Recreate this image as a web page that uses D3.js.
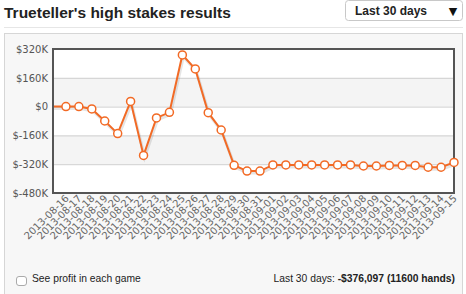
<!DOCTYPE html>
<html>
<head>
<meta charset="utf-8">
<script src="https://cdn.jsdelivr.net/npm/d3@7"></script>
<style>
  body { margin: 0; background: #fff; }
  svg { display: block; }
</style>
</head>
<body>
<div id="chart"></div>
<script>
document.addEventListener("DOMContentLoaded", function () {
  const width = 466;
  const height = 294;

  // data (thousands of dollars, cumulative)
  const dates = [
    "2013-08-16", "2013-08-17", "2013-08-18", "2013-08-19", "2013-08-20", "2013-08-21",
    "2013-08-22", "2013-08-23", "2013-08-24", "2013-08-25", "2013-08-26", "2013-08-27",
    "2013-08-28", "2013-08-29", "2013-08-30", "2013-08-31", "2013-09-01", "2013-09-02",
    "2013-09-03", "2013-09-04", "2013-09-05", "2013-09-06", "2013-09-07", "2013-09-08",
    "2013-09-09", "2013-09-10", "2013-09-11", "2013-09-12", "2013-09-13", "2013-09-14",
    "2013-09-15"
  ];
  const profit = [
    0, 0, -13, -80, -150, 29, -271, -63, -32, 287, 209, -34, -130, -326, -358, -358,
    -324, -324, -324, -324, -324, -324, -324, -330, -330, -327, -327, -327, -337, -337, -310
  ];
  const startValue = 0; // line starts at the left edge before the first day
  const yTicks = [320, 160, 0, -160, -320, -480];

  const plot = { left: 53, right: 454, top: 49, bottom: 193 };

  const svg = d3.select("#chart")
    .append("svg")
    .attr("width", width)
    .attr("height", height);

  // header
  svg.append("text")
    .attr("x", 4)
    .attr("y", 18)
    .attr("font-family", "Liberation Sans, Arial, sans-serif")
    .attr("font-weight", "bold")
    .attr("font-size", 15.5)
    .attr("fill", "#222")
    .text("Trueteller's high stakes results");

  svg.append("rect")
    .attr("x", 345.5).attr("y", 0.5)
    .attr("width", 117).attr("height", 20)
    .attr("rx", 3)
    .attr("fill", "#fff")
    .attr("stroke", "#c8c8c8");
  svg.append("text")
    .attr("x", 355).attr("y", 15)
    .attr("font-family", "Liberation Sans, Arial, sans-serif")
    .attr("font-weight", "bold")
    .attr("font-size", 12)
    .attr("fill", "#222")
    .text("Last 30 days");
  svg.append("text")
    .attr("x", 453).attr("y", 15)
    .attr("text-anchor", "middle")
    .attr("font-family", "DejaVu Sans, sans-serif")
    .attr("font-size", 11)
    .attr("fill", "#111")
    .text("▼");

  svg.append("line")
    .attr("x1", 4).attr("x2", 463)
    .attr("y1", 27.5).attr("y2", 27.5)
    .attr("stroke", "#e6e6e6");

  // panel
  svg.append("rect")
    .attr("x", 4.5).attr("y", 33.5)
    .attr("width", 458).attr("height", 266)
    .attr("fill", "#f7f7f7")
    .attr("stroke", "#d6d6d6");

  const x = d3.scaleLinear().domain([-1, dates.length - 1]).range([plot.left, plot.right]);
  const y = d3.scaleLinear().domain([-480, 320]).range([plot.bottom, plot.top]);

  // alternating bands
  const g = svg.append("g");
  g.append("rect")
    .attr("x", plot.left).attr("y", plot.top)
    .attr("width", plot.right - plot.left).attr("height", plot.bottom - plot.top)
    .attr("fill", "#fff");
  for (let i = 0; i < yTicks.length - 1; i++) {
    if (i % 2 === 1) {
      g.append("rect")
        .attr("x", plot.left).attr("y", y(yTicks[i]))
        .attr("width", plot.right - plot.left)
        .attr("height", y(yTicks[i + 1]) - y(yTicks[i]))
        .attr("fill", "#f4f4f4");
    }
  }

  // grid + y axis
  const yAxis = svg.append("g")
    .attr("transform", `translate(${plot.left},0)`)
    .call(d3.axisLeft(y).tickValues(yTicks).tickSize(-(plot.right - plot.left)).tickPadding(5)
      .tickFormat(d => d === 0 ? "$0" : "$" + d + "K"));
  yAxis.select(".domain").remove();
  yAxis.selectAll(".tick line").attr("stroke", "#cfcfcf");
  yAxis.selectAll(".tick text")
    .attr("font-family", "DejaVu Sans, Verdana, sans-serif")
    .attr("font-size", 10)
    .attr("fill", "#555");

  // line with shadow
  const pts = [{ i: -1, v: startValue }].concat(profit.map((v, i) => ({ i: i, v: v })));
  const line = d3.line().x(d => x(d.i)).y(d => y(d.v));
  svg.append("path")
    .datum(pts)
    .attr("transform", "translate(1,2)")
    .attr("fill", "none")
    .attr("stroke", "rgba(0,0,0,0.1)")
    .attr("stroke-width", 3)
    .attr("d", line);
  svg.append("path")
    .datum(pts)
    .attr("fill", "none")
    .attr("stroke", "#f26a25")
    .attr("stroke-width", 2)
    .attr("d", line);

  // frame
  svg.append("rect")
    .attr("x", plot.left).attr("y", plot.top)
    .attr("width", plot.right - plot.left).attr("height", plot.bottom - plot.top)
    .attr("fill", "none")
    .attr("stroke", "#555")
    .attr("stroke-width", 2);

  svg.selectAll("circle.pt")
    .data(profit)
    .enter().append("circle")
    .attr("class", "pt")
    .attr("cx", (d, i) => x(i))
    .attr("cy", d => y(d))
    .attr("r", 4)
    .attr("fill", "#fff")
    .attr("stroke", "#f26a25")
    .attr("stroke-width", 1.5);

  // x labels
  const xAxis = svg.append("g")
    .attr("transform", `translate(0,${plot.bottom})`)
    .call(d3.axisBottom(x).tickValues(d3.range(dates.length)).tickSize(0).tickPadding(0)
      .tickFormat(i => dates[i]));
  xAxis.select(".domain").remove();
  xAxis.selectAll(".tick text")
    .attr("font-family", "DejaVu Sans, Verdana, sans-serif")
    .attr("font-size", 10)
    .attr("fill", "#666")
    .attr("text-anchor", "end")
    .attr("dy", 0)
    .attr("transform", "translate(3,6) rotate(-45)");

  // footer
  svg.append("rect")
    .attr("x", 16.5).attr("y", 276.5)
    .attr("width", 10).attr("height", 9)
    .attr("rx", 2.5)
    .attr("fill", "#fff")
    .attr("stroke", "#aaa");
  svg.append("text")
    .attr("x", 32).attr("y", 282)
    .attr("font-family", "Liberation Sans, Arial, sans-serif")
    .attr("font-size", 10.3)
    .attr("fill", "#222")
    .text("See profit in each game");

  const summary = svg.append("text")
    .attr("x", 455).attr("y", 282)
    .attr("text-anchor", "end")
    .attr("font-family", "Liberation Sans, Arial, sans-serif")
    .attr("font-size", 10.3)
    .attr("fill", "#222");
  summary.append("tspan").text("Last 30 days: ");
  summary.append("tspan").attr("font-weight", "bold").text("-$376,097 (11600 hands)");
});
</script>
</body>
</html>
